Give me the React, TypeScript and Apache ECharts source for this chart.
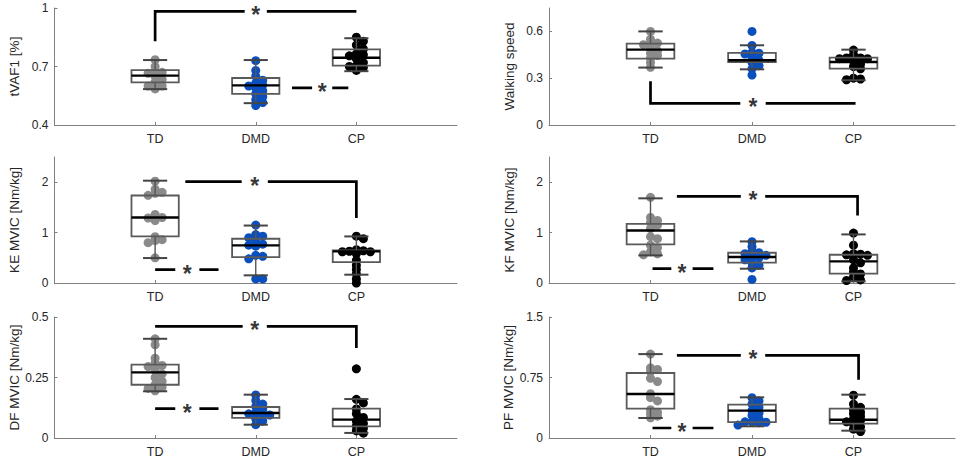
import React, { useEffect, useRef } from "react";
import * as echarts from "echarts";

// ---------- data ----------
const groups = ["TD", "DMD", "CP"];
const groupColors = ["#8a8a8a", "#0b4fbd", "#000000"];

const panelNames = ["tVAF1 [%]", "Walking speed", "KE MVIC [Nm/kg]", "KF MVIC [Nm/kg]", "DF MVIC [Nm/kg]", "PF MVIC [Nm/kg]"];
const yMins = [0.4, 0, 0, 0, 0, 0];
const yMaxs = [1, 0.75, 2.5, 2.5, 0.5, 1.5];
const ySteps = [0.3, 0.3, 1, 1, 0.25, 0.75];
const yTicks = [
  [0.4, 0.7, 1],
  [0, 0.3, 0.6],
  [0, 1, 2],
  [0, 1, 2],
  [0, 0.25, 0.5],
  [0, 0.75, 1.5],
];

// box stats per group: [lower whisker, Q1, median, Q3, upper whisker]
const tvafBox = [[0.584, 0.619, 0.653, 0.681, 0.733], [0.512, 0.56, 0.603, 0.641, 0.733], [0.676, 0.705, 0.745, 0.788, 0.845]];
const speedBox = [[0.368, 0.426, 0.483, 0.521, 0.6], [0.357, 0.404, 0.415, 0.462, 0.511], [0.287, 0.362, 0.404, 0.432, 0.483]];
const keBox = [[0.495, 0.924, 1.3, 1.736, 2.03], [0.152, 0.515, 0.746, 0.878, 1.14], [0.165, 0.416, 0.627, 0.647, 0.924]];
const kfBox = [[0.548, 0.766, 1.043, 1.175, 1.68], [0.284, 0.403, 0.515, 0.6, 0.825], [0.033, 0.185, 0.429, 0.561, 0.964]];
const dfBox = [[0.193, 0.22, 0.271, 0.303, 0.41], [0.055, 0.083, 0.103, 0.128, 0.179], [0.021, 0.048, 0.076, 0.121, 0.161]];
const pfBox = [[0.248, 0.364, 0.545, 0.806, 1.04], [0.145, 0.198, 0.339, 0.413, 0.504], [0.091, 0.178, 0.227, 0.364, 0.537]];

// individual values per group (TD, DMD, CP)
const tvafTD = [0.735, 0.7, 0.675, 0.67, 0.665, 0.65, 0.635, 0.62, 0.6, 0.6, 0.585];
const tvafDMD = [0.73, 0.68, 0.65, 0.63, 0.615, 0.605, 0.6, 0.59, 0.575, 0.56, 0.545, 0.53, 0.515, 0.5];
const tvafCP = [0.85, 0.83, 0.81, 0.79, 0.765, 0.76, 0.755, 0.74, 0.72, 0.705, 0.7, 0.695, 0.68];

const speedTD = [0.6, 0.55, 0.525, 0.52, 0.515, 0.49, 0.475, 0.46, 0.445, 0.43, 0.4, 0.37];
const speedDMD = [0.6, 0.51, 0.465, 0.46, 0.455, 0.43, 0.415, 0.4, 0.38, 0.36, 0.32];
const speedCP = [0.48, 0.45, 0.43, 0.43, 0.425, 0.425, 0.41, 0.39, 0.375, 0.36, 0.3, 0.295, 0.29];

const keTD = [2.02, 1.86, 1.8, 1.78, 1.74, 1.36, 1.3, 1.29, 1.24, 0.92, 0.86, 0.84, 0.8, 0.5];
const keDMD = [1.15, 0.96, 0.93, 0.9, 0.82, 0.77, 0.75, 0.73, 0.55, 0.53, 0.48, 0.08, 0.08];
const keCP = [0.93, 0.88, 0.66, 0.64, 0.63, 0.62, 0.62, 0.58, 0.45, 0.35, 0.27, 0.18, 0.08, 0.0];

const kfTD = [1.7, 1.3, 1.24, 1.2, 1.15, 1.08, 0.92, 0.88, 0.75, 0.7, 0.62, 0.58, 0.56];
const kfDMD = [0.82, 0.72, 0.62, 0.6, 0.58, 0.55, 0.52, 0.5, 0.46, 0.4, 0.35, 0.3, 0.07];
const kfCP = [0.99, 0.75, 0.58, 0.57, 0.56, 0.55, 0.46, 0.4, 0.3, 0.22, 0.18, 0.12, 0.06, 0.05];

const dfTD = [0.41, 0.385, 0.33, 0.31, 0.3, 0.295, 0.28, 0.265, 0.25, 0.235, 0.22, 0.21, 0.205, 0.195];
const dfDMD = [0.178, 0.155, 0.14, 0.13, 0.12, 0.105, 0.1, 0.1, 0.095, 0.08, 0.07, 0.055];
const dfCP = [0.286, 0.16, 0.145, 0.12, 0.1, 0.085, 0.07, 0.06, 0.05, 0.04, 0.03, 0.02];

const pfTD = [1.04, 0.87, 0.85, 0.82, 0.74, 0.7, 0.55, 0.5, 0.46, 0.35, 0.32, 0.3, 0.27, 0.25];
const pfDMD = [0.5, 0.46, 0.42, 0.38, 0.34, 0.31, 0.28, 0.24, 0.2, 0.2, 0.195, 0.19, 0.16];
const pfCP = [0.53, 0.42, 0.38, 0.35, 0.32, 0.3, 0.27, 0.24, 0.22, 0.2, 0.17, 0.14, 0.11, 0.08];

// significance brackets (axis units): x0..x1 at level y, star at xs, gap half-width,
// optional leg ends yL (down from x0) / yR (down from x1)
const tvafBrackets = [
  { x0: 1, x1: 3, y: 0.983, xs: 2, gap: 0.11, yL: 0.83 },
  { x0: 2.36, x1: 2.92, y: 0.59, xs: 2.66, gap: 0.1 },
];
const speedBrackets = [{ x0: 1, x1: 3.02, y: 0.138, xs: 2.01, gap: 0.125, yL: 0.281 }];
const keBrackets = [
  { x0: 1.3, x1: 3.0, y: 2.01, xs: 1.99, gap: 0.13, yR: 1.29 },
  { x0: 1.0, x1: 1.63, y: 0.264, xs: 1.32, gap: 0.12 },
];
const kfBrackets = [
  { x0: 1.26, x1: 3.04, y: 1.72, xs: 2.01, gap: 0.12, yR: 1.34 },
  { x0: 1.02, x1: 1.62, y: 0.284, xs: 1.31, gap: 0.105 },
];
const dfBrackets = [
  { x0: 1.0, x1: 3.0, y: 0.461, xs: 1.99, gap: 0.12, yR: 0.372 },
  { x0: 1.0, x1: 1.63, y: 0.121, xs: 1.32, gap: 0.12 },
];
const pfBrackets = [
  { x0: 1.26, x1: 3.05, y: 1.025, xs: 2.01, gap: 0.12, yR: 0.723 },
  { x0: 1.02, x1: 1.62, y: 0.124, xs: 1.31, gap: 0.105 },
];

const panelBoxes = [tvafBox, speedBox, keBox, kfBox, dfBox, pfBox];
const panelPoints = [
  [tvafTD, tvafDMD, tvafCP],
  [speedTD, speedDMD, speedCP],
  [keTD, keDMD, keCP],
  [kfTD, kfDMD, kfCP],
  [dfTD, dfDMD, dfCP],
  [pfTD, pfDMD, pfCP],
];
const panelBrackets = [tvafBrackets, speedBrackets, keBrackets, kfBrackets, dfBrackets, pfBrackets];

// ---------- layout / style ----------
const W = 964;
const H = 464;
const colLeft = [54.5, 549];
const colWidth = [402.5, 406];
const rowTop = [8, 157, 317];
const rowHeight = [117, 126, 121];
const X_MAX = 4;
const BOX_HALF = 0.235;
const CAP_HALF = 0.12;
const POINT_SIZE = 9;
const STEP_PX = 7;
const MIN_DY_PX = 4;

const FONT = "'Liberation Sans', Arial, Helvetica, sans-serif";
const TEXT = "#262626";
const AXIS = "#808080";

// deterministic beeswarm placement (horizontal offset in axis units)
function swarm(values: number[], pxY: number, pxX: number): number[] {
  const placed: { k: number; y: number }[] = [];
  return values.map((v) => {
    const yp = v * pxY;
    for (let i = 0; i < 30; i++) {
      const k = i === 0 ? 0 : (i % 2 ? 1 : -1) * Math.ceil(i / 2);
      const clash = placed.some((p) => p.k === k && Math.abs(p.y - yp) < MIN_DY_PX);
      if (!clash) {
        placed.push({ k, y: yp });
        return (k * STEP_PX) / pxX;
      }
    }
    return 0;
  });
}

function buildOption() {
  const grid: any[] = [];
  const xAxis: any[] = [];
  const yAxis: any[] = [];
  const series: any[] = [];

  for (let p = 0; p < 6; p++) {
    const col = p % 2;
    const row = Math.floor(p / 2);
    grid.push({
      left: colLeft[col],
      top: rowTop[row],
      width: colWidth[col],
      height: rowHeight[row],
      containLabel: false,
      outerBoundsMode: "none",
    });
    xAxis.push({
      type: "value",
      gridIndex: p,
      min: 0,
      max: X_MAX,
      interval: 1,
      splitLine: { show: false },
      axisLine: { lineStyle: { color: AXIS, width: 1 } },
      axisTick: { show: true, inside: true, length: 3, lineStyle: { color: AXIS }, customValues: [1, 2, 3] },
      axisLabel: {
        customValues: [1, 2, 3],
        formatter: (v: number) => groups[Math.round(v) - 1] ?? "",
        color: TEXT,
        fontSize: 12.5,
        fontFamily: FONT,
        margin: 7,
      },
    });
    yAxis.push({
      type: "value",
      gridIndex: p,
      min: yMins[p],
      max: yMaxs[p],
      interval: ySteps[p],
      splitLine: { show: false },
      axisLine: { show: true, lineStyle: { color: AXIS, width: 1 } },
      axisTick: { show: true, inside: true, length: 3, lineStyle: { color: AXIS }, customValues: yTicks[p] },
      axisLabel: {
        customValues: yTicks[p],
        color: TEXT,
        fontSize: 12,
        fontFamily: FONT,
        margin: 6,
      },
      name: panelNames[p],
      nameLocation: "middle",
      nameGap: 33,
      nameTextStyle: { color: TEXT, fontSize: 13.5, fontFamily: FONT },
    });

    const pxY = rowHeight[row] / (yMaxs[p] - yMins[p]);
    const pxX = colWidth[col] / X_MAX;

    // points
    panelPoints[p].forEach((vals, g) => {
      const offs = swarm(vals, pxY, pxX);
      series.push({
        type: "scatter",
        xAxisIndex: p,
        yAxisIndex: p,
        symbol: "circle",
        symbolSize: POINT_SIZE,
        itemStyle: { color: groupColors[g], opacity: 1 },
        silent: true,
        z: 2,
        data: vals.map((v, i) => [g + 1 + offs[i], v]),
      });
    });

    // boxes
    series.push({
      type: "custom",
      xAxisIndex: p,
      yAxisIndex: p,
      z: 3,
      silent: true,
      encode: { x: 0, y: [1, 2, 3, 4, 5] },
      data: panelBoxes[p].map((b, g) => [g + 1, ...b]),
      renderItem: (_params: any, api: any) => {
        const x = api.value(0);
        const lw = api.value(1);
        const q1 = api.value(2);
        const md = api.value(3);
        const q3 = api.value(4);
        const hw = api.value(5);
        const c = (xx: number, yy: number) => api.coord([xx, yy]);
        const tl = c(x - BOX_HALF, q3);
        const br = c(x + BOX_HALF, q1);
        const mL = c(x - BOX_HALF, md);
        const mR = c(x + BOX_HALF, md);
        const wTop = c(x, hw);
        const wQ3 = c(x, q3);
        const wQ1 = c(x, q1);
        const wBot = c(x, lw);
        const capTL = c(x - CAP_HALF, hw);
        const capTR = c(x + CAP_HALF, hw);
        const capBL = c(x - CAP_HALF, lw);
        const capBR = c(x + CAP_HALF, lw);
        const ws = { stroke: "#555555", lineWidth: 1.4 };
        return {
          type: "group",
          children: [
            { type: "line", shape: { x1: wTop[0], y1: wTop[1], x2: wQ3[0], y2: wQ3[1] }, style: ws },
            { type: "line", shape: { x1: wQ1[0], y1: wQ1[1], x2: wBot[0], y2: wBot[1] }, style: ws },
            { type: "line", shape: { x1: capTL[0], y1: capTL[1], x2: capTR[0], y2: capTR[1] }, style: { stroke: "#444444", lineWidth: 2 } },
            { type: "line", shape: { x1: capBL[0], y1: capBL[1], x2: capBR[0], y2: capBR[1] }, style: { stroke: "#444444", lineWidth: 2 } },
            {
              type: "rect",
              shape: { x: tl[0], y: tl[1], width: br[0] - tl[0], height: br[1] - tl[1] },
              style: { fill: "none", stroke: "#5a5a5a", lineWidth: 1.8 },
            },
            { type: "line", shape: { x1: mL[0], y1: mL[1], x2: mR[0], y2: mR[1] }, style: { stroke: "#000", lineWidth: 2.4 } },
          ],
        };
      },
    });

    // brackets
    panelBrackets[p].forEach((b: any) => {
      const left: number[][] = [];
      if (b.yL !== undefined) left.push([b.x0, b.yL]);
      left.push([b.x0, b.y], [b.xs - b.gap, b.y]);
      const right: number[][] = [[b.xs + b.gap, b.y], [b.x1, b.y]];
      if (b.yR !== undefined) right.push([b.x1, b.yR]);
      [left, right].forEach((seg) => {
        series.push({
          type: "line",
          xAxisIndex: p,
          yAxisIndex: p,
          data: seg,
          symbol: "none",
          silent: true,
          z: 5,
          lineStyle: { color: "#000", width: 2.7, cap: "butt", join: "miter" },
        });
      });
      series.push({
        type: "scatter",
        xAxisIndex: p,
        yAxisIndex: p,
        data: [[b.xs, b.y]],
        symbolSize: 1,
        silent: true,
        z: 6,
        itemStyle: { color: "rgba(0,0,0,0)" },
        label: {
          show: true,
          formatter: "*",
          position: "inside",
          fontSize: 23,
          fontWeight: "bold",
          color: "#000",
          fontFamily: FONT,
          offset: [0, 4],
        },
      });
    });
  }

  return {
    animation: false,
    backgroundColor: "#ffffff",
    textStyle: { fontFamily: FONT },
    grid,
    xAxis,
    yAxis,
    series,
  };
}

export default function App() {
  const ref = useRef<HTMLDivElement>(null);
  useEffect(() => {
    if (!ref.current) return;
    const chart = echarts.init(ref.current, undefined, { renderer: "svg", width: W, height: H });
    chart.setOption(buildOption() as any);
    return () => chart.dispose();
  }, []);
  return (
    <div
      ref={ref}
      style={{ position: "fixed", left: 0, top: 0, width: W, height: H, background: "#fff" }}
    />
  );
}
